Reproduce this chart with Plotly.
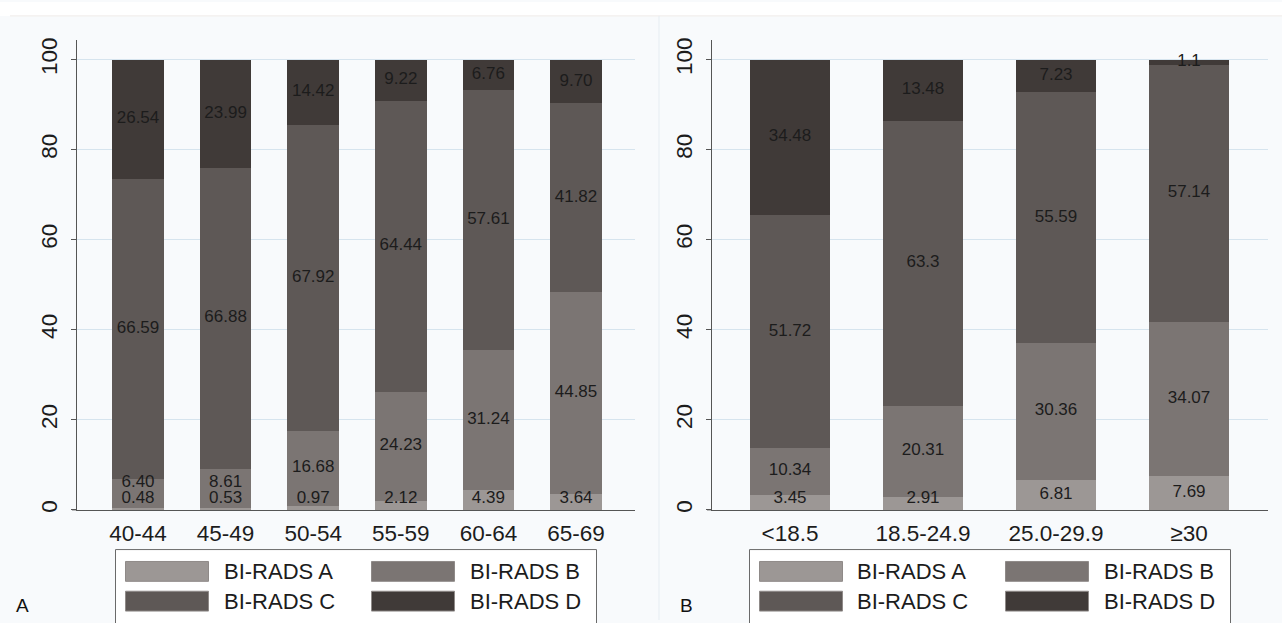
import plotly.graph_objects as go

# Canvas size in pixels
W, H = 1282, 623

# Panel A: mammographic density by age group (%)
age_groups = ["40-44", "45-49", "50-54", "55-59", "60-64", "65-69"]
age_a = [0.48, 0.53, 0.97, 2.12, 4.39, 3.64]
age_b = [6.40, 8.61, 16.68, 24.23, 31.24, 44.85]
age_c = [66.59, 66.88, 67.92, 64.44, 57.61, 41.82]
age_d = [26.54, 23.99, 14.42, 9.22, 6.76, 9.70]

# Panel B: mammographic density by BMI group (%)
bmi_groups = ["<18.5", "18.5-24.9", "25.0-29.9", "≥30"]
bmi_a = [3.45, 2.91, 6.81, 7.69]
bmi_b = [10.34, 20.31, 30.36, 34.07]
bmi_c = [51.72, 63.3, 55.59, 57.14]
bmi_d = [34.48, 13.48, 7.23, 1.1]

density_names = ["BI-RADS A", "BI-RADS B", "BI-RADS C", "BI-RADS D"]
y_ticks = [0, 20, 40, 60, 80, 100]

COLORS = ["#9c9795", "#7b7573", "#5e5856", "#403a38"]
FONT = "Liberation Sans, Arial, sans-serif"
TEXT = "#1c1c1c"
AXIS = "#555555"
GRID = "#d6e4ee"
BG = "#f8fafc"


def px(x):
    return x / W


def py(y):
    return 1 - y / H


# Pixel geometry of the two panels
Y_BOTTOM, Y_TOP = 512, 38
panels = [
    dict(name="A", cats=age_groups, series=[age_a, age_b, age_c, age_d],
         fmt=lambda v: f"{v:.2f}", left=77, right=635, first=138, step=87.6,
         bar_w=0.59, xa="x", ya="y", letter_x=22),
    dict(name="B", cats=bmi_groups, series=[bmi_a, bmi_b, bmi_c, bmi_d],
         fmt=lambda v: f"{v:g}", left=712, right=1268, first=790, step=133,
         bar_w=0.6, xa="x2", ya="y2", letter_x=686),
]

fig = go.Figure()
Y_MAX = 104.4
LABEL_MIN = 2.4   # lowest label position (data units)
LABEL_GAP = 3.7   # minimum spacing between stacked labels

for p in panels:
    n = len(p["cats"])
    # stacked bars
    for name, vals, col in zip(density_names, p["series"], COLORS):
        fig.add_trace(go.Bar(
            x=p["cats"], y=vals, name=name, width=p["bar_w"],
            marker=dict(color=col, line=dict(width=0)),
            xaxis=p["xa"], yaxis=p["ya"], showlegend=False,
            hoverinfo="x+y+name",
        ))
    # value labels centred in each segment
    lx, ly, lt = [], [], []
    for i in range(n):
        base = 0.0
        prev = None
        for vals in p["series"]:
            v = vals[i]
            y = max(base + v / 2, LABEL_MIN)
            if prev is not None:
                y = max(y, prev + LABEL_GAP)
            lx.append(p["cats"][i])
            ly.append(y)
            lt.append(p["fmt"](v))
            prev = y
            base += v
    fig.add_trace(go.Scatter(
        x=lx, y=ly, text=lt, mode="text", textposition="middle center",
        textfont=dict(family=FONT, size=17, color=TEXT),
        xaxis=p["xa"], yaxis=p["ya"], showlegend=False, hoverinfo="skip",
        cliponaxis=False,
    ))

axis_common_x = dict(
    type="category", showline=True, linecolor=AXIS, linewidth=1,
    ticks="", showgrid=False, zeroline=False, fixedrange=True,
    tickfont=dict(family=FONT, size=22.5, color=TEXT), ticklabelstandoff=3,
)
axis_common_y = dict(
    range=[0, Y_MAX], tickvals=y_ticks, showgrid=True, gridcolor=GRID,
    gridwidth=1, showline=True, linecolor=AXIS, linewidth=1,
    ticks="outside", ticklen=5, tickcolor=AXIS, tickangle=-90,
    zeroline=False, fixedrange=True,
    tickfont=dict(family=FONT, size=22.5, color=TEXT), ticklabelstandoff=5,
    domain=[py(Y_BOTTOM), py(Y_TOP)],
)

layout_axes = {}
for k, p in enumerate(panels):
    lo = -(p["first"] - p["left"]) / p["step"]
    hi = lo + (p["right"] - p["left"]) / p["step"]
    xs = "xaxis" if k == 0 else "xaxis2"
    ys = "yaxis" if k == 0 else "yaxis2"
    layout_axes[xs] = dict(axis_common_x, domain=[px(p["left"]), px(p["right"])],
                           range=[lo, hi], anchor=p["ya"],
                           categoryorder="array", categoryarray=p["cats"])
    layout_axes[ys] = dict(axis_common_y, anchor=p["xa"])

shapes = [
    # white strip across the top and panel divider
    dict(type="rect", xref="paper", yref="paper", x0=0, x1=1, y0=py(14), y1=1,
         fillcolor="#ffffff", line=dict(width=0), layer="below"),
    dict(type="line", xref="paper", yref="paper", x0=px(10), x1=1, y0=py(14), y1=py(14),
         line=dict(color="#efebe8", width=1), layer="below"),
    dict(type="line", xref="paper", yref="paper", x0=px(659), x1=px(659), y0=0, y1=py(14),
         line=dict(color="#e6edf2", width=1), layer="below"),
]
annotations = []

# x-axis baseline reaching slightly left of each y axis
for p in panels:
    shapes.append(dict(type="line", xref="paper", yref="paper",
                       x0=px(p["left"] - 5), x1=px(p["left"]),
                       y0=py(Y_BOTTOM), y1=py(Y_BOTTOM),
                       line=dict(color=AXIS, width=1)))

# legend boxes drawn under each panel
BOX_W, BOX_TOP = 481, 552
SW_W, SW_H = 83, 20
COL_OFF = [10, 256]
ROW_Y = [564, 594]
for p in panels:
    cx = (p["left"] + p["right"]) / 2
    bx0 = cx - BOX_W / 2
    shapes.append(dict(type="rect", xref="paper", yref="paper",
                       x0=px(bx0), x1=px(bx0 + BOX_W), y0=py(BOX_TOP), y1=py(H + 5),
                       fillcolor="#ffffff", line=dict(color="#6a6a6a", width=1)))
    for j, (name, col) in enumerate(zip(density_names, COLORS)):
        r, c = divmod(j, 2)
        sx = bx0 + COL_OFF[c]
        sy = ROW_Y[r]
        shapes.append(dict(type="rect", xref="paper", yref="paper",
                           x0=px(sx), x1=px(sx + SW_W), y0=py(sy + SW_H), y1=py(sy),
                           fillcolor=col, line=dict(color="#8f8a88", width=1)))
        annotations.append(dict(
            x=px(sx + SW_W + 13), y=py(sy + SW_H / 2), xref="paper", yref="paper",
            text=name, showarrow=False, xanchor="left", yanchor="middle",
            font=dict(family=FONT, size=22, color=TEXT),
        ))
    annotations.append(dict(
        x=px(p["letter_x"]), y=py(608), xref="paper", yref="paper",
        text=p["name"], showarrow=False, xanchor="center", yanchor="middle",
        font=dict(family=FONT, size=19, color="#111111"),
    ))

fig.update_layout(
    width=W, height=H, margin=dict(l=0, r=0, t=0, b=0),
    paper_bgcolor=BG, plot_bgcolor=BG, barmode="stack", bargap=0,
    showlegend=False, shapes=shapes, annotations=annotations,
    font=dict(family=FONT, color=TEXT),
    **layout_axes,
)

fig.write_html("out.html", config={"displayModeBar": False})
